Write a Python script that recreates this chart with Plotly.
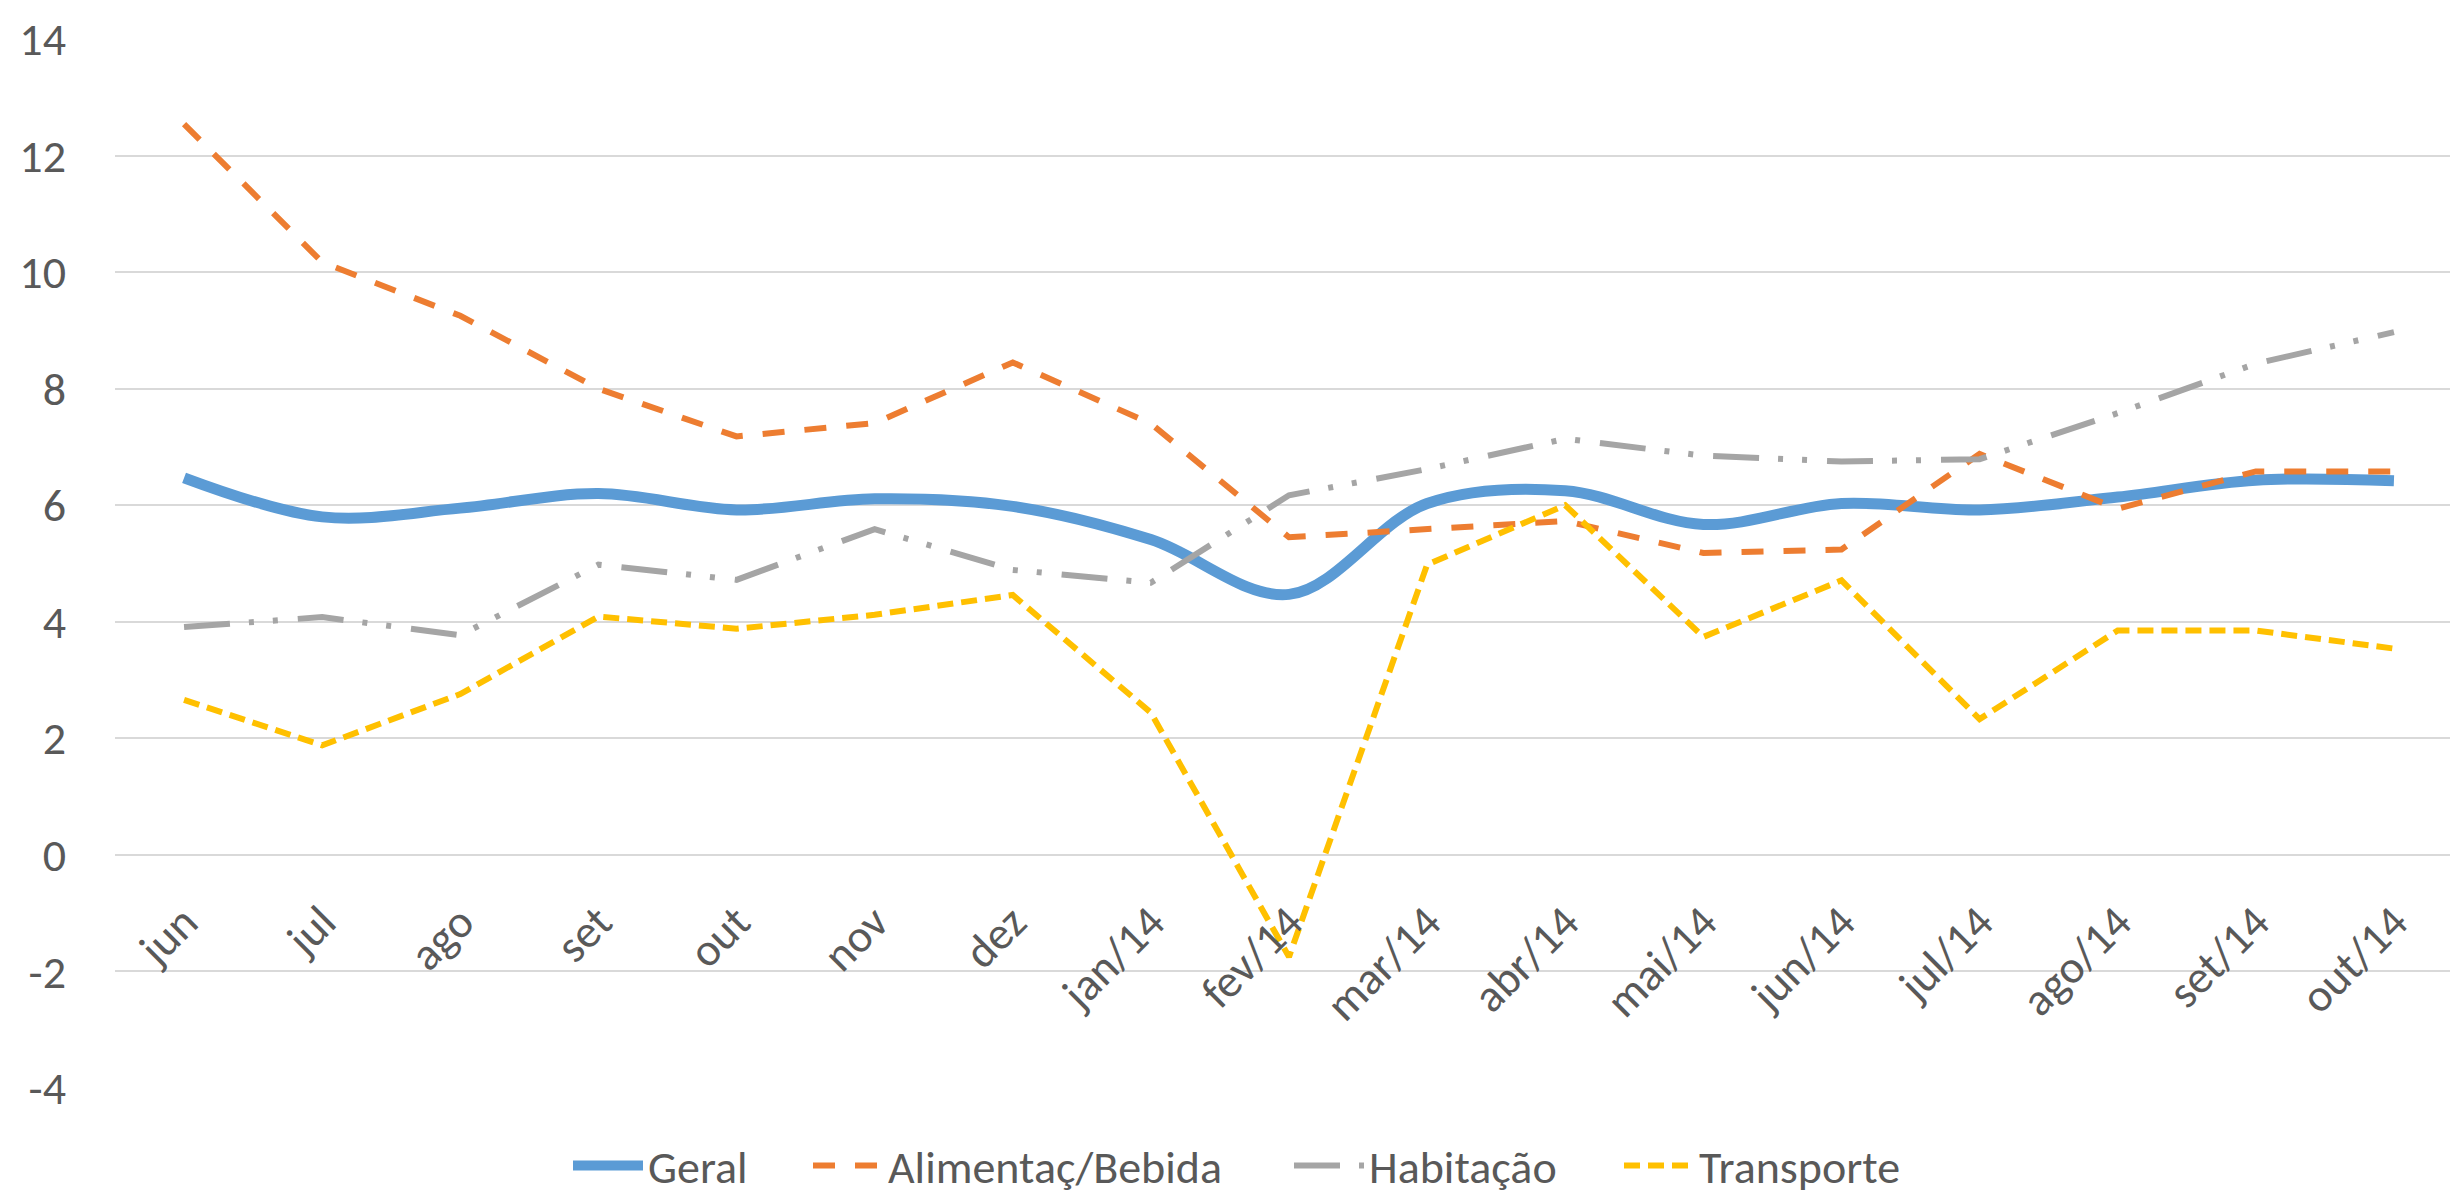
import plotly.graph_objects as go

categories = ["jun", "jul", "ago", "set", "out", "nov", "dez", "jan/14", "fev/14",
              "mar/14", "abr/14", "mai/14", "jun/14", "jul/14", "ago/14", "set/14", "out/14"]
geral = [6.47, 5.80, 5.95, 6.20, 5.92, 6.11, 5.98, 5.41, 4.47, 6.03, 6.25, 5.67, 6.03, 5.92, 6.14, 6.43, 6.42]
alimentacao = [12.54, 10.17, 9.25, 8.00, 7.18, 7.41, 8.45, 7.40, 5.45, 5.60, 5.73, 5.18, 5.24, 6.88, 5.94, 6.58, 6.58]
habitacao = [3.91, 4.08, 3.77, 4.98, 4.72, 5.59, 4.89, 4.67, 6.17, 6.62, 7.14, 6.85, 6.75, 6.79, 7.58, 8.43, 8.97]
transporte = [2.66, 1.88, 2.76, 4.09, 3.88, 4.12, 4.46, 2.44, -1.75, 4.98, 6.00, 3.74, 4.71, 2.33, 3.85, 3.85, 3.54]
y_ticks = [-4, -2, 0, 2, 4, 6, 8, 10, 12, 14]
y_tick_labels = ["-4", "-2", "0", "2", "4", "6", "8", "10", "12", "14"]

FONT = "Carlito, Lato, sans-serif"
TXT = "#595959"
FS = 46

W, H = 2458, 1197
ML, MR, MT, MB = 107, 3, 28, 107
PW = W - ML - MR


def px_x(px):
    return (px - ML) / PW


fig = go.Figure()
fig.add_trace(go.Scatter(x=categories, y=geral, name="Geral", mode="lines", legend="legend",
                         line=dict(color="#5B9BD5", width=11, shape="spline", smoothing=1.0)))
fig.add_trace(go.Scatter(x=categories, y=alimentacao, name="Alimentaç/Bebida", mode="lines", legend="legend2",
                         line=dict(color="#ED7D31", width=6, dash="22px,20px")))
fig.add_trace(go.Scatter(x=categories, y=habitacao, name="Habitação", mode="lines", legend="legend3",
                         line=dict(color="#A5A5A5", width=6, dash="46px,19px,5px,19px,5px,20px")))
fig.add_trace(go.Scatter(x=categories, y=transporte, name="Transporte", mode="lines", legend="legend4",
                         line=dict(color="#FFC000", width=6, dash="16px,8px")))


def leg(px):
    return dict(orientation="h", x=px_x(px - 12), xanchor="left", y=-0.074, yanchor="middle",
                font=dict(family=FONT, size=FS, color=TXT), itemwidth=70,
                bgcolor="rgba(0,0,0,0)")


n = len(categories)
fig.update_layout(
    width=W, height=H,
    margin=dict(l=ML, r=MR, t=MT, b=MB),
    paper_bgcolor="white", plot_bgcolor="white",
    font=dict(family=FONT, size=FS, color=TXT),
    showlegend=True,
    legend=leg(572), legend2=leg(812), legend3=leg(1293), legend4=leg(1623),
    xaxis=dict(type="category", range=[-0.5, n - 0.5], anchor="free", position=4 / 18,
               showgrid=False, showline=False, ticks="", tickangle=-45,
               ticklabelstandoff=30, tickfont=dict(family=FONT, size=FS, color=TXT)),
    yaxis=dict(range=[-4, 14], tickvals=y_ticks, ticktext=y_tick_labels,
               showgrid=True, gridcolor="#D9D9D9", gridwidth=2,
               zeroline=True, zerolinecolor="#D9D9D9", zerolinewidth=2, showline=False,
               ticks="", ticklabelstandoff=48, tickfont=dict(family=FONT, size=FS, color=TXT)),
)

fig.write_html("out.html")
